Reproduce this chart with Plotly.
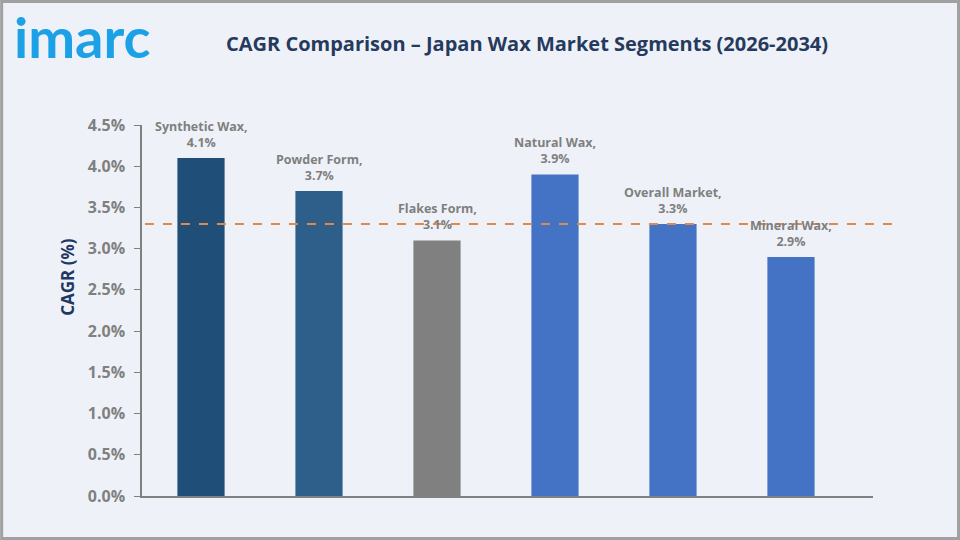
import plotly.graph_objects as go

categories = ["Synthetic Wax", "Powder Form", "Flakes Form", "Natural Wax", "Overall Market", "Mineral Wax"]
cagr = [4.1, 3.7, 3.1, 3.9, 3.3, 2.9]
bar_colors = ["#1F4E79", "#2E5F8A", "#808080", "#4472C4", "#4472C4", "#4472C4"]
overall_ref = 3.3
tick_vals = [0, 0.5, 1.0, 1.5, 2.0, 2.5, 3.0, 3.5, 4.0, 4.5]
tick_text = ["0.0%", "0.5%", "1.0%", "1.5%", "2.0%", "2.5%", "3.0%", "3.5%", "4.0%", "4.5%"]

bg = "#EEF2F8"
FONT = "Open Sans, Noto Sans, sans-serif"

fig = go.Figure()
fig.add_trace(go.Bar(
    x=categories, y=cagr, marker=dict(color=bar_colors, line=dict(width=0)),
    width=0.4, hoverinfo="x+y",
))

for c, v in zip(categories, cagr):
    fig.add_annotation(
        x=c, y=v, text=f"<b>{c},<br>{v:.1f}%</b>", showarrow=False,
        yanchor="bottom", yshift=5,
        font=dict(family=FONT, size=12.5, color="#7F7F7F"),
    )

fig.add_shape(type="line", xref="paper", yref="y", x0=0.004, x1=1.03,
              y0=overall_ref, y1=overall_ref,
              line=dict(color="#E0894D", width=2, dash="dash"), layer="above")

# frame
fig.add_shape(type="rect", xref="paper", yref="paper", x0=-0.192, x1=1.117, y0=-0.1146, y1=1.333,
              line=dict(color="#A0A0A0", width=3))

fig.add_annotation(xref="paper", yref="paper", x=-0.178, y=1.335, xanchor="left", yanchor="top",
                   text="<b>imarc</b>", showarrow=False,
                   font=dict(family="Lato, Roboto, sans-serif", size=56, color="#1DA1E6"))

fig.add_annotation(xref="paper", yref="paper", x=-0.103, y=0.590, xanchor="center", yanchor="middle",
                   text="<b>CAGR (%)</b>", showarrow=False, textangle=-90,
                   font=dict(family=FONT, size=17, color="#1F3864"))

fig.update_layout(
    width=960, height=540,
    paper_bgcolor=bg, plot_bgcolor=bg,
    margin=dict(l=142, r=87, t=125, b=44),
    title=dict(text="<b>CAGR Comparison – Japan Wax Market Segments (2026-2034)</b>",
               x=0.549, xanchor="center", y=0.918, yanchor="middle",
               font=dict(family=FONT, size=20, color="#263A5E")),
    showlegend=False,
)
fig.update_xaxes(showticklabels=False, showline=True, linecolor="#808080", linewidth=1.5,
                 ticks="", showgrid=False, range=[-0.5, 5.695])
fig.update_yaxes(range=[0, 4.5], tickvals=tick_vals, ticktext=[f"<b>{t}</b>" for t in tick_text],
                 showline=True, linecolor="#808080", linewidth=1.5,
                 ticks="outside", ticklen=6, tickcolor="#808080", ticklabelstandoff=6,
                 showgrid=False, zeroline=False,
                 tickfont=dict(family=FONT, size=16, color="#808080"))

fig.write_html("out.html")
